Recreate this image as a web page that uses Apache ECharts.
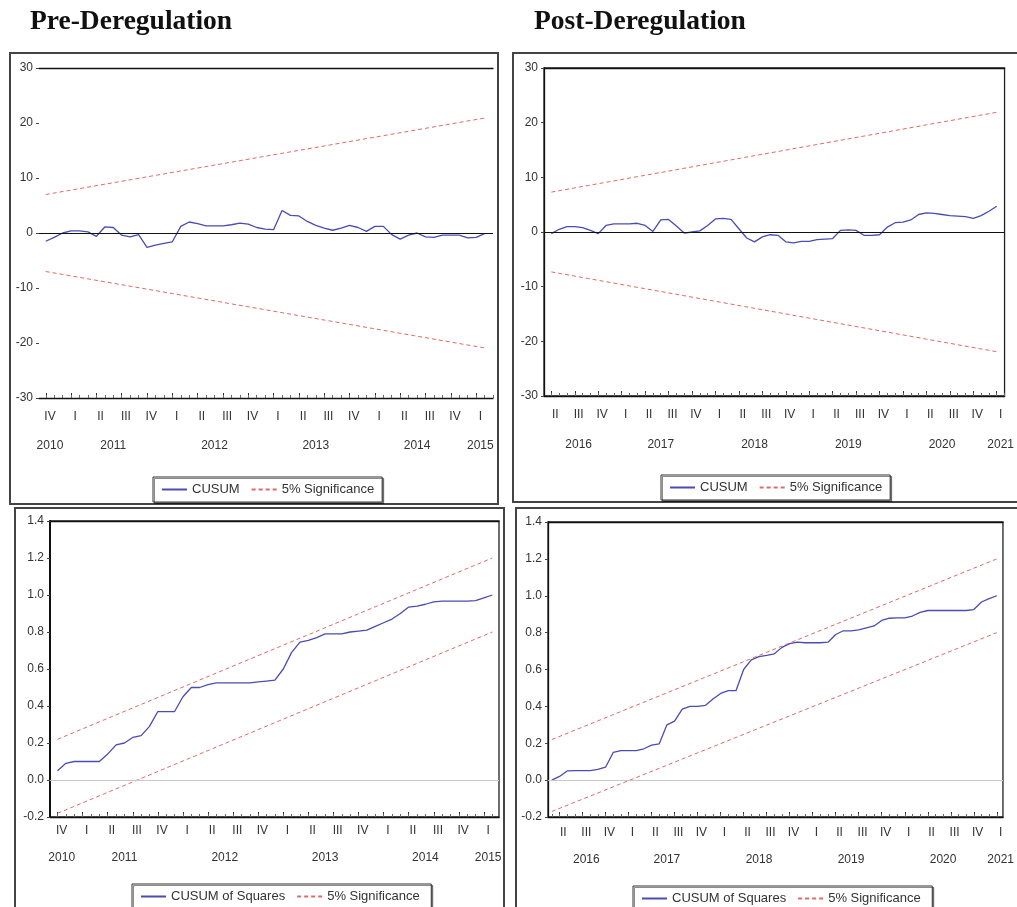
<!DOCTYPE html>
<html><head><meta charset="utf-8">
<script src="https://cdn.jsdelivr.net/npm/echarts@6/dist/echarts.min.js"></script>
<style>html,body{margin:0;padding:0;background:#fff}#c{width:1017px;height:907px}</style>
</head><body><div id="c"></div>
<script>
// ---------- DATA ----------
// Pre-deregulation: monthly observations starting 2010-10
const preCusumStart = '2010-10';
const preCusum = [-1.5,-0.8,0.0,0.4,0.4,0.2,-0.6,1.1,1.0,-0.4,-0.7,-0.3,-2.6,-2.2,-1.9,-1.6,1.2,2.0,1.7,1.3,1.3,1.3,1.5,1.8,1.6,1.0,0.7,0.6,4.1,3.2,3.1,2.1,1.4,0.9,0.5,0.9,1.4,1.0,0.3,1.2,1.2,-0.3,-1.1,-0.4,0.0,-0.7,-0.8,-0.4,-0.4,-0.4,-0.9,-0.8,-0.1];
const preCusumUpper = [7.0, 20.9];   // first and last observation
const preCusumLower = [-7.0, -20.9];
const preSqStart = '2010-10';
const preCusumSq = [0.05,0.09,0.10,0.10,0.10,0.10,0.14,0.19,0.20,0.23,0.24,0.29,0.37,0.37,0.37,0.45,0.50,0.50,0.515,0.525,0.525,0.525,0.525,0.525,0.53,0.535,0.54,0.60,0.69,0.745,0.755,0.77,0.79,0.79,0.79,0.80,0.805,0.81,0.83,0.85,0.87,0.90,0.935,0.94,0.95,0.963,0.967,0.967,0.967,0.967,0.97,0.985,1.0];
const preSqUpper = [0.22, 1.2];
const preSqLower = [-0.18, 0.8];
const preQuarters = ['2010Q4','2011Q1','2011Q2','2011Q3','2011Q4','2012Q1','2012Q2','2012Q3','2012Q4','2013Q1','2013Q2','2013Q3','2013Q4','2014Q1','2014Q2','2014Q3','2014Q4','2015Q1'];
const preYears = ['2010','2011','2012','2013','2014','2015'];

// Post-deregulation
const postCusumStart = '2016-04';
const postCusum = [-0.3,0.5,1.0,1.0,0.8,0.3,-0.3,1.2,1.5,1.5,1.5,1.6,1.2,0.1,2.2,2.3,1.1,-0.2,0.0,0.2,1.2,2.4,2.5,2.3,0.6,-1.1,-1.8,-0.9,-0.5,-0.6,-1.8,-2.0,-1.7,-1.7,-1.4,-1.3,-1.2,0.3,0.4,0.3,-0.6,-0.6,-0.5,0.9,1.7,1.8,2.2,3.2,3.5,3.4,3.2,3.0,2.9,2.8,2.5,3.0,3.8,4.7];
const postCusumUpper = [7.3, 21.9];
const postCusumLower = [-7.3, -21.9];
const postSqStart = '2016-03';
const postCusumSq = [0.00,0.02,0.05,0.052,0.052,0.052,0.058,0.07,0.15,0.16,0.16,0.16,0.17,0.19,0.197,0.30,0.32,0.385,0.40,0.40,0.405,0.44,0.47,0.485,0.485,0.60,0.652,0.67,0.677,0.685,0.72,0.74,0.748,0.745,0.745,0.745,0.748,0.79,0.81,0.81,0.815,0.826,0.836,0.866,0.878,0.88,0.88,0.89,0.91,0.92,0.92,0.92,0.92,0.92,0.92,0.925,0.966,0.984,1.0];
const postSqUpper = [0.22, 1.2];
const postSqLower = [-0.17, 0.8];
const postQuarters = ['2016Q2','2016Q3','2016Q4','2017Q1','2017Q2','2017Q3','2017Q4','2018Q1','2018Q2','2018Q3','2018Q4','2019Q1','2019Q2','2019Q3','2019Q4','2020Q1','2020Q2','2020Q3','2020Q4','2021Q1'];
const postYears = ['2016','2017','2018','2019','2020','2021'];

const titles = ['Pre-Deregulation', 'Post-Deregulation'];
const legendCusum = ['CUSUM', '5% Significance'];
const legendSq = ['CUSUM of Squares', '5% Significance '];

// ---------- BUILD ----------
const FONT = 'Liberation Sans, Arial, sans-serif';
const ROMAN = {1:'I',2:'II',3:'III',4:'IV'};
function monthIdx(s, base){ const p = s.split('-').map(Number); return (p[0]-base)*12 + (p[1]-1); }
function qPos(q, base){ return (+q.slice(0,4)-base)*12 + (+q.slice(5)-1)*3 + 0.5; }

const option = {animation:false, backgroundColor:'#fff', title:[], grid:[], xAxis:[], yAxis:[], series:[], legend:[], graphic:[]};

function addPanel(p){
  const gi = option.grid.length;
  option.grid.push({left:p.left, top:p.top, width:p.width, height:p.height, show:p.box, borderColor:'#222', borderWidth:1.3, backgroundColor:'transparent'});
  const qVals = p.quarters.map(q => qPos(q, p.base));
  const qLab = {}; p.quarters.forEach((q,i) => { qLab[qVals[i].toFixed(2)] = ROMAN[+q.slice(5)]; });
  const yVals = p.years.map(y => { const qs = qVals.filter((v,i) => p.quarters[i].startsWith(y)); return qs.reduce((a,b)=>a+b,0)/qs.length; });
  const yLab = {}; p.years.forEach((y,i) => { yLab[yVals[i].toFixed(2)] = y; });
  const months = []; for (let t = Math.ceil(p.xmin); t <= Math.floor(p.xmax); t++) months.push(t);
  const qTicks = qVals.map(v => v - 0.5);
  const base = {type:'value', gridIndex:gi, min:p.xmin, max:p.xmax, position:'bottom', splitLine:{show:false}};
  const lab = {color:'#333', fontSize:12, fontFamily:FONT};
  const xi = option.xAxis.length;
  option.xAxis.push(Object.assign({}, base, {
    axisLine:{show:true, onZero:false, lineStyle:{color:'#111', width:1.3}},
    axisTick:{show:true, inside:true, length:5, customValues:qTicks, lineStyle:{color:'#333'}},
    axisLabel:Object.assign({show:true, customValues:qVals, margin:p.qMargin, formatter:v => qLab[(+v).toFixed(2)] || ''}, lab)
  }));
  option.xAxis.push(Object.assign({}, base, {
    axisLine:{show:false, onZero:false},
    axisTick:{show:true, inside:true, length:3, customValues:months, lineStyle:{color:'#666'}},
    axisLabel:{show:false}
  }));
  option.xAxis.push(Object.assign({}, base, {
    axisLine:{show:false, onZero:false}, axisTick:{show:false},
    axisLabel:Object.assign({show:true, customValues:yVals, margin:p.yMargin, formatter:v => yLab[(+v).toFixed(2)] || ''}, lab)
  }));
  option.xAxis.push(Object.assign({}, base, {
    position:'top', axisLine:{show:true, onZero:false, lineStyle:{color:'#111', width:1.3}},
    axisTick:{show:false}, axisLabel:{show:false}
  }));
  const yi = option.yAxis.length;
  option.yAxis.push({type:'value', gridIndex:gi, min:p.ymin, max:p.ymax, interval:p.yint,
    axisLine:{show:p.box, onZero:false, lineStyle:{color:'#111', width:p.yLineW || 1.3}},
    axisTick:{show:true, length:3, lineStyle:{color:'#444'}},
    axisLabel:Object.assign({margin:6, formatter:v => p.dec ? (+v).toFixed(p.dec) : String(Math.round(v))}, lab),
    splitLine:{show:false}});
  const t0 = monthIdx(p.start, p.base);
  const tN = t0 + p.values.length - 1;
  option.series.push({type:'line', name:p.names[0], xAxisIndex:xi, yAxisIndex:yi, showSymbol:false, symbol:'none',
    lineStyle:{color:'#4b4bb3', width:1.3}, itemStyle:{color:'#4b4bb3'},
    data:p.values.map((v,i) => [t0+i, v]),
    markLine:{silent:true, symbol:'none', label:{show:false}, lineStyle:{color:p.zeroColor, width:p.zeroW, type:'solid'}, data:[{yAxis:0}]}
  });
  [p.upper, p.lower].forEach(b => {
    option.series.push({type:'line', name:p.names[1], xAxisIndex:xi, yAxisIndex:yi, showSymbol:false, symbol:'none',
      lineStyle:{color:'#e06a6a', width:1, type:[4,3]}, itemStyle:{color:'#e06a6a'},
      data:[[t0, b[0]], [tN, b[1]]]});
  });
  option.legend.push({left:p.legLeft, top:p.legTop, data:p.names, selectedMode:false, orient:'horizontal',
    itemWidth:25, itemHeight:12, itemGap:11, padding:[6,8], borderColor:'#333', borderWidth:1, backgroundColor:'#fff',
    shadowColor:'rgba(0,0,0,0.45)', shadowOffsetX:1.5, shadowOffsetY:1.5, shadowBlur:0,
    itemStyle:{opacity:0},
    textStyle:{color:'#333', fontSize:13, fontFamily:FONT}});
  option.graphic.push({type:'rect', z:-1, shape:p.frame, style:{fill:'none', stroke:'#444', lineWidth:2}});
}

addPanel({left:39, top:68, width:454, height:330, box:false, base:2010, xmin:8.2, xmax:62, ymin:-30, ymax:30, yint:10,
  quarters:preQuarters, years:preYears, start:preCusumStart, values:preCusum, upper:preCusumUpper, lower:preCusumLower,
  names:legendCusum, zeroColor:'#111', zeroW:1.2, qMargin:13, yMargin:42, legLeft:153, legTop:477,
  frame:{x:10, y:53, width:488, height:451}});
addPanel({left:544, top:68, width:465, height:328, box:true, base:2016, xmin:2.06, xmax:61, ymin:-30, ymax:30, yint:10,
  quarters:postQuarters, years:postYears, start:postCusumStart, values:postCusum, upper:postCusumUpper, lower:postCusumLower,
  names:legendCusum, zeroColor:'#111', zeroW:1.2, qMargin:13, yMargin:43, legLeft:661, legTop:475,
  frame:{x:513, y:53, width:520, height:449}});
addPanel({left:50, top:521, width:449, height:296, box:true, base:2010, xmin:8.1, xmax:61.8, ymin:-0.2, ymax:1.4, yint:0.2, dec:1, yLineW:2,
  quarters:preQuarters, years:preYears, start:preSqStart, values:preCusumSq, upper:preSqUpper, lower:preSqLower,
  names:legendSq, zeroColor:'#c8c8c8', zeroW:1, qMargin:8, yMargin:35, legLeft:132, legTop:884,
  frame:{x:15, y:508, width:489, height:420}});
addPanel({left:548, top:522, width:462, height:295, box:true, base:2016, xmin:1.5, xmax:60.8, ymin:-0.2, ymax:1.4, yint:0.2, dec:1,
  quarters:postQuarters, years:postYears, start:postSqStart, values:postCusumSq, upper:postSqUpper, lower:postSqLower,
  names:legendSq, zeroColor:'#c8c8c8', zeroW:1, qMargin:10, yMargin:37, legLeft:633, legTop:886,
  frame:{x:516, y:508, width:520, height:420}});

const titleStyle = {fontFamily:'Liberation Serif, Times New Roman, serif', fontWeight:'bold', fontSize:27.5, color:'#111'};
option.title.push({text:titles[0], left:30, top:8, padding:0, textStyle:titleStyle});
option.title.push({text:titles[1], left:534, top:8, padding:0, textStyle:titleStyle});

const chart = echarts.init(document.getElementById('c'), null, {renderer:'canvas'});
chart.setOption(option);
</script>
</body></html>
